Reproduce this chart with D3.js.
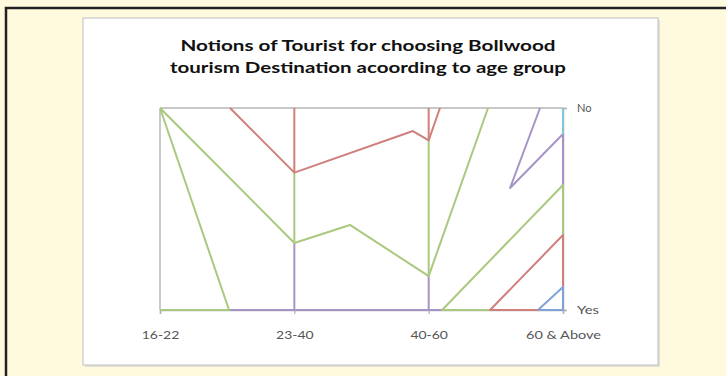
<!DOCTYPE html>
<html>
<head>
<meta charset="utf-8">
<script src="https://cdn.jsdelivr.net/npm/d3@7"></script>
<style>
  html, body { margin: 0; padding: 0; background: #fffadd; }
  svg { display: block; }
</style>
</head>
<body>
<svg id="chart" width="726" height="376"></svg>
<script>
// Age groups along the bottom axis
const categories = ["16-22", "23-40", "40-60", "60 & Above"];
// Right-hand value axis: 0 = Yes, 1 = No
const valueTicks = [{ v: 1, label: "No" }, { v: 0, label: "Yes" }];
const titleLines = [
  "Notions of Tourist for choosing Bollwood",
  "tourism Destination acoording to age group"
];

// Each series is a set of polylines given as [category position, value]
const greenPaths = [
  [[0, 0], [0.514, 0], [0, 1]],
  [[0, 1], [1, 0.332], [1.414, 0.421], [2, 0.168], [2.442, 1]],
  [[1, 0.68], [1, 0.332]],
  [[2, 0.84], [2, 0.168]],
  [[2.457, 0], [2.1, 0], [3, 0.619], [3, 0.371]]
];
const purplePaths = [
  [[0.514, 0], [2.1, 0]],
  [[1, 0.332], [1, 0]],
  [[2, 0.168], [2, 0]],
  [[2.829, 1], [2.606, 0.604], [3, 0.871], [3, 0.619]]
];
const redPaths = [
  [[0.521, 1], [1, 0.68], [1.883, 0.886], [2, 0.84], [2.084, 1]],
  [[1, 1], [1, 0.68]],
  [[2, 1], [2, 0.84]],
  [[2.814, 0], [2.457, 0], [3, 0.371], [3, 0.114]]
];
const bluePaths = [
  [[2.814, 0], [3, 0], [3, 0.114], [2.814, 0]]
];
const tealPaths = [
  [[3, 1], [3, 0.871]]
];

const seriesList = [
  { paths: purplePaths, color: "#a694c6" },
  { paths: greenPaths, color: "#aac87e" },
  { paths: redPaths, color: "#d07f7d" },
  { paths: bluePaths, color: "#7fa3d6" },
  { paths: tealPaths, color: "#80c8dc" }
];

const font = "Lato, 'Open Sans', sans-serif";
const svg = d3.select("#chart");

// Outer frame
svg.append("rect")
  .attr("x", 6).attr("y", 8).attr("width", 760).attr("height", 400)
  .attr("fill", "#fffadd").attr("stroke", "#222").attr("stroke-width", 2.5);

// Chart panel with soft shadow
svg.append("rect")
  .attr("x", 85).attr("y", 20).attr("width", 575).attr("height", 347)
  .attr("fill", "#cfcfcf").attr("opacity", 0.6);
svg.append("rect")
  .attr("x", 83).attr("y", 18).attr("width", 575).attr("height", 347)
  .attr("fill", "#ffffff").attr("stroke", "#c9c9c9").attr("stroke-width", 1.2);

// Title, two lines, stretched slightly wide
const titleWidths = [375, 396];
svg.selectAll("text.title")
  .data(titleLines)
  .enter().append("text")
  .attr("class", "title")
  .attr("x", 368)
  .attr("y", (d, i) => 51 + i * 22)
  .attr("text-anchor", "middle")
  .attr("font-family", font)
  .attr("font-weight", "bold")
  .attr("font-size", 14.5)
  .attr("fill", "#111")
  .attr("textLength", (d, i) => titleWidths[i])
  .attr("lengthAdjust", "spacingAndGlyphs")
  .text(d => d);

const plot = { left: 160, right: 563, top: 108, bottom: 310 };

const x = d3.scaleLinear().domain([0, categories.length - 1]).range([plot.left, plot.right]);
const y = d3.scaleLinear().domain([0, 1]).range([plot.bottom, plot.top]);

// Gridline at the top and left axis line
svg.append("line")
  .attr("x1", plot.left).attr("x2", plot.right)
  .attr("y1", y(1)).attr("y2", y(1))
  .attr("stroke", "#c8c8c8").attr("stroke-width", 2);
svg.append("line")
  .attr("x1", plot.left).attr("x2", plot.left)
  .attr("y1", plot.top).attr("y2", plot.bottom)
  .attr("stroke", "#b8b8b8").attr("stroke-width", 1.5);

// Bottom category axis
const xAxis = d3.axisBottom(x)
  .tickValues(d3.range(categories.length))
  .tickFormat(i => categories[i])
  .tickSize(4)
  .tickPadding(17);
const gx = svg.append("g")
  .attr("transform", `translate(0,${plot.bottom})`)
  .call(xAxis);
gx.select(".domain").attr("stroke", "#b0b0b0").attr("stroke-width", 1.5);
gx.selectAll(".tick line").attr("stroke", "#b0b0b0").attr("stroke-width", 1.2);
gx.selectAll(".tick text")
  .attr("fill", "#555")
  .attr("font-family", font)
  .attr("font-size", 11.5)
  .attr("textLength", i => categories[i].length * 7.5)
  .attr("lengthAdjust", "spacingAndGlyphs");

// Right value axis
const yAxis = d3.axisRight(y)
  .tickValues(valueTicks.map(d => d.v))
  .tickFormat(v => valueTicks.find(d => d.v === v).label)
  .tickSize(4)
  .tickPadding(10);
const gy = svg.append("g")
  .attr("transform", `translate(${plot.right},0)`)
  .call(yAxis);
gy.select(".domain").attr("stroke", "#b0b0b0").attr("stroke-width", 1.5);
gy.selectAll(".tick line").attr("stroke", "#b0b0b0").attr("stroke-width", 1.2);
gy.selectAll(".tick text")
  .attr("fill", "#555")
  .attr("font-family", font)
  .attr("font-size", 11.5)
  .attr("textLength", v => valueTicks.find(d => d.v === v).label.length * 7.3)
  .attr("lengthAdjust", "spacingAndGlyphs");

// Series lines, clipped to the plot area
svg.append("clipPath").attr("id", "plotClip")
  .append("rect")
  .attr("x", plot.left).attr("y", plot.top - 1)
  .attr("width", plot.right - plot.left + 1).attr("height", plot.bottom - plot.top + 2);

const line = d3.line().x(d => x(d[0])).y(d => y(d[1]));
const lines = svg.append("g").attr("clip-path", "url(#plotClip)");
seriesList.forEach(s => {
  lines.selectAll(null)
    .data(s.paths)
    .enter().append("path")
    .attr("d", line)
    .attr("fill", "none")
    .attr("stroke", s.color)
    .attr("stroke-width", 2)
    .attr("stroke-linejoin", "round");
});
</script>
</body>
</html>
